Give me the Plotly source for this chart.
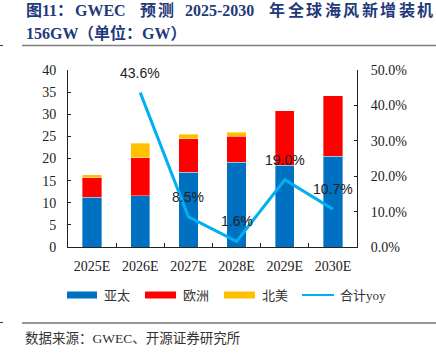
import plotly.graph_objects as go

categories = ["2025E", "2026E", "2027E", "2028E", "2029E", "2030E"]
asia_pacific = [11.3, 11.6, 16.9, 19.2, 18.5, 20.5]
europe = [4.3, 8.6, 7.6, 5.8, 12.3, 13.7]
north_america = [0.7, 3.3, 1.0, 0.9, 0.0, 0.0]
yoy_categories = ["2026E", "2027E", "2028E", "2029E", "2030E"]
yoy = [43.6, 8.5, 1.6, 19.0, 10.7]
yoy_labels = ["43.6%", "8.5%", "1.6%", "19.0%", "10.7%"]
left_ticks = [0, 5, 10, 15, 20, 25, 30, 35, 40]
right_ticks = [0, 10, 20, 30, 40, 50]
right_tick_labels = ["0.0%", "10.0%", "20.0%", "30.0%", "40.0%", "50.0%"]

W, H = 436, 353
L, R, T, B = 68, 79, 70, 106
PW, PH = W - L - R, H - T - B


def px(x):
    return (x - L) / PW


def py(y):
    return (H - B - y) / PH


BLUE, RED, YELLOW, CYAN = "#0070C0", "#FF0000", "#FFC000", "#00B0F0"
SERIF = "Liberation Serif, Noto Sans CJK SC"
TITLE_C = "#1F3A7A"

fig = go.Figure()
for name, vals, col in [("亚太", asia_pacific, BLUE), ("欧洲", europe, RED), ("北美", north_america, YELLOW)]:
    fig.add_trace(go.Bar(x=categories, y=vals, name=name, marker=dict(color=col, line=dict(color="rgba(255,255,255,0.6)", width=0.6)), yaxis="y"))
fig.add_trace(go.Scatter(x=yoy_categories, y=yoy, name="合计yoy", mode="lines", line=dict(color=CYAN, width=3), yaxis="y2"))

ann = []
for c, v, t in zip(yoy_categories, yoy, yoy_labels):
    ann.append(dict(x=c, y=v, xref="x", yref="y2", text=t, showarrow=False, yshift=20,
                    font=dict(family="Liberation Sans, Arial", size=14, color="#222")))

# title
tfont = dict(family=SERIF, size=16, color=TITLE_C, weight="bold")
def title_txt(x, y, s):
    ann.append(dict(x=px(x), y=py(y), xref="paper", yref="paper", text="<b>%s</b>" % s, showarrow=False,
                    xanchor="left", yanchor="middle", font=tfont))

title_txt(24, 10, "图11：")
title_txt(73, 10, "GWEC")
for i, ch in enumerate("预测"):
    title_txt(138 + 18 * i, 10, ch)
title_txt(183, 10, "2025-2030")
for i, ch in enumerate("年全球海风新增装机"):
    title_txt(267 + 18.5 * i, 10, ch)
title_txt(24, 33, "156GW")
title_txt(76, 33, "（单位：GW）")

# legend
lfont = dict(family=SERIF, size=13, color="#333")
shapes = []
for x0, x1, col, name in [(67, 97, BLUE, "亚太"), (145, 176, RED, "欧洲"), (224, 255, YELLOW, "北美")]:
    shapes.append(dict(type="rect", xref="paper", yref="paper", x0=px(x0), x1=px(x1), y0=py(298.5), y1=py(291.5),
                       fillcolor=col, line=dict(width=0)))
    ann.append(dict(x=px(x1 + 5), y=py(295), xref="paper", yref="paper", text=name, showarrow=False,
                    xanchor="left", yanchor="middle", font=lfont))
shapes.append(dict(type="line", xref="paper", yref="paper", x0=px(302), x1=px(334), y0=py(295), y1=py(295),
                   line=dict(color=CYAN, width=2)))
ann.append(dict(x=px(338), y=py(295), xref="paper", yref="paper", text="合计yoy", showarrow=False,
                xanchor="left", yanchor="middle", font=lfont))

# separators
shapes.append(dict(type="line", xref="paper", yref="paper", x0=px(22), x1=px(436), y0=py(45.5), y1=py(45.5),
                   line=dict(color="#808080", width=1.5)))
shapes.append(dict(type="line", xref="paper", yref="paper", x0=px(22), x1=px(436), y0=py(323), y1=py(323),
                   line=dict(color="#333", width=1)))
for yy in (45.5, 322.5):
    shapes.append(dict(type="line", xref="paper", yref="paper", x0=px(0), x1=px(3), y0=py(yy), y1=py(yy),
                       line=dict(color="#333", width=1)))

ann.append(dict(x=px(23), y=py(338), xref="paper", yref="paper", text="数据来源：GWEC、开源证券研究所", showarrow=False,
                xanchor="left", yanchor="middle", font=dict(family=SERIF, size=13.5, color="#333")))

fig.update_layout(
    width=W, height=H, margin=dict(l=L, r=R, t=T, b=B),
    barmode="stack", bargap=0.6, showlegend=False,
    plot_bgcolor="white", paper_bgcolor="white",
    xaxis=dict(type="category", categoryorder="array", categoryarray=categories,
               showline=True, linecolor="#222", linewidth=1, ticks="inside", ticklen=4, tickcolor="#222",
               tickson="boundaries", tickfont=dict(family=SERIF, size=14, color="#222"), showgrid=False,
               ticklabelstandoff=6),
    yaxis=dict(range=[0, 40], tickvals=left_ticks, showline=True, linecolor="#222", linewidth=1,
               ticks="inside", ticklen=3, tickcolor="#222", showgrid=False, zeroline=False,
               tickfont=dict(family=SERIF, size=14, color="#222"), ticklabelstandoff=8),
    yaxis2=dict(range=[0, 50], tickvals=right_ticks, ticktext=right_tick_labels, overlaying="y", side="right",
                showline=True, linecolor="#222", linewidth=1, ticks="inside", ticklen=3, tickcolor="#222",
                showgrid=False, zeroline=False, tickfont=dict(family=SERIF, size=14, color="#222"),
                ticklabelstandoff=10),
    annotations=ann, shapes=shapes,
)
fig.write_html("out.html")
